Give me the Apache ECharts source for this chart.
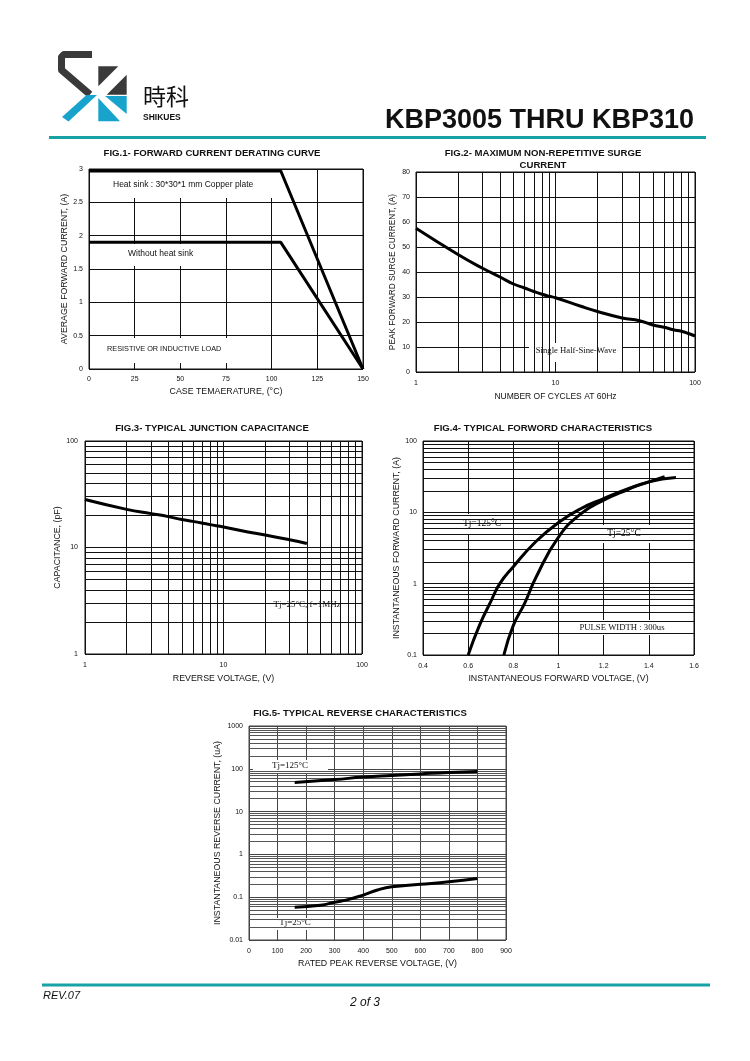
<!DOCTYPE html>
<html>
<head>
<meta charset="utf-8">
<title>KBP3005 THRU KBP310</title>
<script src="https://cdn.jsdelivr.net/npm/echarts@6/dist/echarts.min.js"></script>
<style>
  html, body { margin: 0; padding: 0; background: #fff; }
  #page { width: 750px; height: 1061px; }
</style>
</head>
<body>
<div id="page"></div>
<script>
// fig.1 forward current derating
const fig1Temp = [0, 105, 150];
const fig1HeatSink = [2.97, 2.97, 0];
const fig1NoSink = [1.9, 1.9, 0];

// fig.2 surge current
const fig2Cycles = [1, 2, 3, 4, 5, 6, 7, 8, 9, 10, 15, 20, 30, 40, 50, 60, 70, 80, 90, 100];
const fig2Current = [57.5, 47, 41.5, 38, 35.2, 33.6, 32.2, 31.1, 30.3, 29.7, 26.4, 24.2, 21.6, 20.5, 18.8, 17.9, 16.9, 16.3, 15.4, 14.4];

// fig.3 junction capacitance
const fig3Voltage = [1, 2, 3, 4, 5, 6, 8, 10, 15, 20, 30, 40];
const fig3Cap = [28.2, 22.8, 20.8, 19.5, 18.3, 17.6, 16.4, 15.6, 14, 13.1, 11.8, 10.9];

// fig.4 forward characteristics
const fig4V125 = [0.6, 0.65, 0.7, 0.74, 0.8, 0.9, 1.0, 1.1, 1.2, 1.3, 1.4, 1.47];
const fig4I125 = [0.1, 0.26, 0.56, 1, 1.73, 3.9, 7.2, 11.3, 15.6, 21, 26.7, 31.5];
const fig4V25 = [0.758, 0.8, 0.85, 0.9, 1.0, 1.1, 1.2, 1.3, 1.4, 1.52];
const fig4I25 = [0.1, 0.26, 0.53, 1.22, 4.5, 9.6, 14.8, 20.4, 26.7, 30.7];

// fig.5 reverse characteristics
const fig5V125 = [160, 300, 400, 500, 600, 700, 800];
const fig5I125 = [48, 56, 64, 70, 76, 82, 86];
const fig5V25 = [160, 250, 300, 350, 400, 450, 500, 600, 700, 800];
const fig5I25 = [0.058, 0.065, 0.076, 0.089, 0.112, 0.147, 0.175, 0.2, 0.23, 0.275];

const SANS = '"Liberation Sans", Arial, sans-serif';
const SERIF = '"Liberation Serif", "Times New Roman", serif';
const TEAL = '#17a2a6';
const BLUE = '#17a3cc';
const DARK = '#3a3a3a';

// 2..9 lines inside every decade, for the log grids
function minorLines(decades) {
  const out = [];
  decades.forEach(d => {
    for (let k = 2; k <= 9; k++) out.push(+(k * d).toPrecision(6));
  });
  return out;
}

function pairs(xs, ys) {
  return xs.map((x, i) => [x, ys[i]]);
}

// plain numbers on log axes, no thousands separator
const plain = v => String(+(+v).toPrecision(4));

function nameStyle(size) {
  return { color: '#111', fontSize: size || 8.8, fontFamily: SANS };
}

function xAxisOf(gridIndex, opts) {
  return Object.assign({
    gridIndex,
    nameLocation: 'middle',
    nameTextStyle: nameStyle(),
    axisLine: { show: false },
    axisTick: { show: false },
    axisLabel: { color: '#111', fontSize: 7, fontFamily: SANS, margin: 8, formatter: plain },
    splitLine: { show: true, lineStyle: { color: '#111', width: 1 } }
  }, opts);
}

function yAxisOf(gridIndex, opts) {
  return Object.assign({
    gridIndex,
    nameLocation: 'middle',
    nameTextStyle: nameStyle(),
    axisLine: { show: false },
    axisTick: { show: false },
    axisLabel: { color: '#111', fontSize: 7, fontFamily: SANS, margin: 6, formatter: plain },
    splitLine: { show: true, lineStyle: { color: '#111', width: 1 } }
  }, opts);
}

function gridLines(idx, xs, ys, color) {
  const data = [];
  xs.forEach(v => data.push({ xAxis: v }));
  ys.forEach(v => data.push({ yAxis: v }));
  return {
    type: 'line', xAxisIndex: idx, yAxisIndex: idx, data: [], z: 1, silent: true,
    markLine: {
      silent: true, symbol: ['none', 'none'], label: { show: false },
      lineStyle: { color, width: 1, type: 'solid' },
      emphasis: { disabled: true },
      data
    }
  };
}

function curve(idx, xs, ys, smooth) {
  return {
    type: 'line', xAxisIndex: idx, yAxisIndex: idx, z: 5,
    data: pairs(xs, ys), showSymbol: false, smooth,
    lineStyle: { color: '#000', width: 3 }
  };
}

function box(x1, y1, x2, y2) {
  return { type: 'rect', z: 3, silent: true, shape: { x: x1, y: y1, width: x2 - x1, height: y2 - y1 }, style: { fill: '#fff' } };
}

function label(text, x, y, font, align) {
  return {
    type: 'text', z: 4, silent: true, x, y,
    style: { text, font, fill: '#111', align: align || 'center', verticalAlign: 'middle', textAlign: align || 'center', textVerticalAlign: 'middle' }
  };
}

const chart = echarts.init(document.getElementById('page'), null, { renderer: 'canvas' });

const gridBase = { show: true, borderColor: '#111', borderWidth: 1, backgroundColor: 'transparent' };

const option = {
  animation: false,
  backgroundColor: '#fff',
  grid: [
    Object.assign({ left: 89, top: 169, width: 274, height: 200 }, gridBase),
    Object.assign({ left: 416, top: 172, width: 279, height: 200 }, gridBase),
    Object.assign({ left: 85, top: 441, width: 277, height: 213 }, gridBase),
    Object.assign({ left: 423, top: 441, width: 271, height: 214 }, gridBase),
    Object.assign({ left: 249, top: 726, width: 257, height: 214 }, gridBase, { borderColor: '#444' })
  ],
  xAxis: [
    xAxisOf(0, { type: 'value', min: 0, max: 150, interval: 25, name: 'CASE TEMAERATURE, (°C)', nameGap: 18,
      axisLabel: { color: '#111', fontSize: 7, fontFamily: SANS, margin: 7 } }),
    xAxisOf(1, { type: 'log', logBase: 10, min: 1, max: 100, name: 'NUMBER OF CYCLES AT 60Hz', nameGap: 20, nameTextStyle: nameStyle(8.5) }),
    xAxisOf(2, { type: 'log', logBase: 10, min: 1, max: 100, name: 'REVERSE VOLTAGE, (V)', nameGap: 20 }),
    xAxisOf(3, { type: 'value', min: 0.4, max: 1.6, interval: 0.2, name: 'INSTANTANEOUS FORWARD VOLTAGE, (V)', nameGap: 19 }),
    xAxisOf(4, { type: 'value', min: 0, max: 900, interval: 100, name: 'RATED PEAK REVERSE VOLTAGE, (V)', nameGap: 19,
      splitLine: { show: true, lineStyle: { color: '#444', width: 1 } } })
  ],
  yAxis: [
    yAxisOf(0, { type: 'value', min: 0, max: 3, interval: 0.5, name: 'AVERAGE FORWARD CURRENT, (A)', nameGap: 20 }),
    yAxisOf(1, { type: 'value', min: 0, max: 80, interval: 10, name: 'PEAK FORWARD SURGE CURRENT, (A)', nameGap: 19, nameTextStyle: nameStyle(8.3) }),
    yAxisOf(2, { type: 'log', logBase: 10, min: 1, max: 100, name: 'CAPACITANCE, (pF)', nameGap: 21,
      axisLabel: { color: '#111', fontSize: 7, fontFamily: SANS, margin: 7, formatter: plain } }),
    yAxisOf(3, { type: 'log', logBase: 10, min: 0.1, max: 100, name: 'INSTANTANEOUS FORWARD CURRENT, (A)', nameGap: 21 }),
    yAxisOf(4, { type: 'log', logBase: 10, min: 0.01, max: 1000, name: 'INSTANTANEOUS REVERSE CURRENT, (uA)', nameGap: 27,
      splitLine: { show: true, lineStyle: { color: '#444', width: 1 } } })
  ],
  series: [
    curve(0, fig1Temp, fig1HeatSink, false),
    curve(0, fig1Temp, fig1NoSink, false),

    gridLines(1, minorLines([1, 10]), [], '#111'),
    curve(1, fig2Cycles, fig2Current, true),

    gridLines(2, minorLines([1, 10]), minorLines([1, 10]), '#111'),
    curve(2, fig3Voltage, fig3Cap, true),

    gridLines(3, [], minorLines([0.1, 1, 10]), '#111'),
    curve(3, fig4V125, fig4I125, true),
    curve(3, fig4V25, fig4I25, true),

    gridLines(4, [], minorLines([0.01, 0.1, 1, 10, 100]), '#555'),
    curve(4, fig5V125, fig5I125, true),
    curve(4, fig5V25, fig5I25, true)
  ],
  graphic: [
    // logo
    { type: 'polyline', z: 3, shape: { points: [[92, 54.5], [64, 54.5], [61.5, 57], [61.5, 70], [90, 94.5]] },
      style: { stroke: DARK, lineWidth: 7, fill: null, lineJoin: 'round', lineCap: 'butt' } },
    { type: 'polygon', z: 3, shape: { points: [[86.5, 95], [97, 95], [68.5, 121.5], [62, 117]] }, style: { fill: BLUE } },
    { type: 'polygon', z: 3, shape: { points: [[98.3, 66.3], [118.3, 66.3], [98.3, 86.3]] }, style: { fill: DARK } },
    { type: 'polygon', z: 3, shape: { points: [[126.7, 74.7], [126.7, 94.7], [106.7, 94.7]] }, style: { fill: DARK } },
    { type: 'polygon', z: 3, shape: { points: [[98.3, 98], [98.3, 121.3], [120, 121.3]] }, style: { fill: BLUE } },
    { type: 'polygon', z: 3, shape: { points: [[105, 96], [126.7, 96], [126.7, 114]] }, style: { fill: BLUE } },
    label('時科', 143, 96, '23px "Noto Sans CJK SC", sans-serif', 'left'),
    label('SHIKUES', 143, 118, 'bold 8.5px ' + SANS, 'left'),
    label('KBP3005 THRU KBP310', 694, 121, 'bold 27px ' + SANS, 'right'),
    { type: 'line', z: 3, shape: { x1: 49, y1: 137.5, x2: 706, y2: 137.5 }, style: { stroke: TEAL, lineWidth: 3 } },

    // figure titles
    label('FIG.1- FORWARD CURRENT DERATING CURVE', 212, 153, 'bold 9.6px ' + SANS),
    label('FIG.2- MAXIMUM NON-REPETITIVE SURGE', 543, 153, 'bold 9.6px ' + SANS),
    label('CURRENT', 543, 165, 'bold 9.6px ' + SANS),
    label('FIG.3- TYPICAL JUNCTION CAPACITANCE', 212, 428, 'bold 9.6px ' + SANS),
    label('FIG.4- TYPICAL FORWORD CHARACTERISTICS', 543, 428, 'bold 9.6px ' + SANS),
    label('FIG.5- TYPICAL REVERSE CHARACTERISTICS', 360, 713, 'bold 9.6px ' + SANS),

    // fig.1 notes
    box(90, 172, 272, 198),
    label('Heat sink : 30*30*1 mm Copper plate', 113, 185, '8.5px ' + SANS, 'left'),
    box(90, 244, 222, 266),
    label('Without heat sink', 128, 254, '8.5px ' + SANS, 'left'),
    box(90, 338, 228, 363),
    label('RESISTIVE OR INDUCTIVE LOAD', 107, 349, '7.3px ' + SANS, 'left'),

    // fig.2 note
    box(529, 343, 623, 362),
    label('Single Half-Sine-Wave', 576, 351, '8.7px ' + SERIF),

    // fig.3 note
    box(257, 597, 360, 615),
    label('Tj=25°C, f=1MHz', 307, 605, '9px ' + SERIF),

    // fig.4 notes
    box(454, 514, 513, 534),
    label('Tj=125°C', 482, 523, '9.5px ' + SERIF),
    box(595, 525, 654, 543),
    label('Tj=25°C', 624, 533, '9.5px ' + SERIF),
    box(563, 620, 680, 635),
    label('PULSE WIDTH : 300us', 622, 628, '8.7px ' + SERIF),

    // fig.5 notes
    box(253, 760, 328, 774),
    label('Tj=125°C', 290, 766, '9px ' + SERIF),
    box(258, 918, 333, 930),
    label('Tj=25°C', 295, 923, '9px ' + SERIF),

    // footer
    { type: 'line', z: 3, shape: { x1: 42, y1: 985, x2: 710, y2: 985 }, style: { stroke: TEAL, lineWidth: 3 } },
    label('REV.07', 43, 996, 'italic 11px ' + SANS, 'left'),
    label('2 of 3', 365, 1003, 'italic 12px ' + SANS)
  ]
};

chart.setOption(option);
</script>
</body>
</html>
